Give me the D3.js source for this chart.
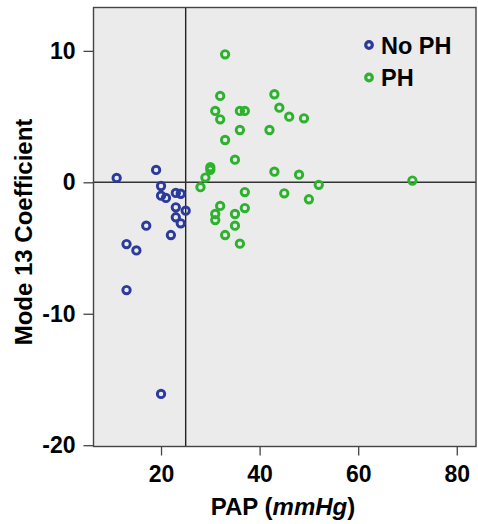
<!DOCTYPE html>
<html>
<head>
<meta charset="utf-8">
<script src="https://cdn.jsdelivr.net/npm/d3@7/dist/d3.min.js"></script>
<style>
  html, body { margin: 0; padding: 0; background: #fff; }
  svg text { font-family: "Liberation Sans", Arial, sans-serif; font-weight: bold; fill: #000; }
</style>
</head>
<body>
<svg id="chart" width="478" height="524"></svg>
<script>
// PAP (mmHg) vs Mode 13 coefficient, split by PH status
const noPhPap  = [11, 19, 20, 20, 21, 23, 24, 23, 25, 23, 24, 17, 22, 13, 15, 13, 20];
const noPhCoef = [0.33, 0.94, -0.28, -1.02, -1.19, -0.81, -0.87, -1.9, -2.16, -2.66, -3.12, -3.3, -4.01, -4.7, -5.18, -8.2, -16.1];

const phPap  = [33, 32, 43, 31, 36, 37, 44, 32, 46, 49, 36, 42, 33, 35, 30, 30, 29, 43, 48, 71, 52, 28, 37, 45, 50, 32, 37, 31, 31, 35, 35, 33, 36];
const phCoef = [9.74, 6.57, 6.7, 5.43, 5.43, 5.43, 5.68, 4.79, 4.99, 4.87, 3.98, 3.98, 3.22, 1.72, 1.15, 0.95, 0.36, 0.81, 0.58, 0.13, -0.19, -0.37, -0.74, -0.84, -1.29, -1.8, -1.96, -2.41, -2.87, -2.41, -3.3, -4.01, -4.67];

const xTicks = [20, 40, 60, 80];
const yTicks = [10, 0, -10, -20];
const groups = ["No PH", "PH"];
const colors = ["#2c3a9c", "#2db22d"];
const refX = 25, refY = 0;

const svg = d3.select("#chart");
const plot = { left: 93.5, right: 476, top: 7.5, bottom: 446.5 };

const x = d3.scaleLinear().domain([6.3, 83.9]).range([plot.left, plot.right]);
const y = d3.scaleLinear().domain([-20.1, 13.3]).range([plot.bottom, plot.top]);

// plot background
svg.append("rect")
  .attr("x", plot.left).attr("y", plot.top)
  .attr("width", plot.right - plot.left).attr("height", plot.bottom - plot.top)
  .attr("fill", "#ebebeb");

// reference lines
svg.append("line")
  .attr("x1", x(refX)).attr("x2", x(refX))
  .attr("y1", plot.top).attr("y2", plot.bottom)
  .attr("stroke", "#222").attr("stroke-width", 1.4);
svg.append("line")
  .attr("x1", plot.left).attr("x2", plot.right)
  .attr("y1", y(refY)).attr("y2", y(refY))
  .attr("stroke", "#333").attr("stroke-width", 1.6);

// axes (plain hyphen for negative labels)
const fmt = d => String(d);
const xAxis = svg.append("g")
  .attr("transform", `translate(0,${plot.bottom})`)
  .call(d3.axisBottom(x).tickValues(xTicks).tickFormat(fmt).tickSize(9).tickPadding(10));
const yAxis = svg.append("g")
  .attr("transform", `translate(${plot.left},0)`)
  .call(d3.axisLeft(y).tickValues(yTicks).tickFormat(fmt).tickSize(10).tickPadding(8));

[xAxis, yAxis].forEach(g => {
  g.select(".domain").remove();
  g.selectAll(".tick line").attr("stroke", "#444").attr("stroke-width", 1.3);
  g.selectAll(".tick text").style("font-size", "23px").attr("fill", "#000");
});

// frame
svg.append("rect")
  .attr("x", plot.left).attr("y", plot.top)
  .attr("width", plot.right - plot.left).attr("height", plot.bottom - plot.top)
  .attr("fill", "none").attr("stroke", "#444").attr("stroke-width", 1.4);

// points
const series = [
  { name: groups[0], xs: noPhPap, ys: noPhCoef, color: colors[0] },
  { name: groups[1], xs: phPap, ys: phCoef, color: colors[1] }
];
series.forEach(s => {
  svg.append("g").selectAll("circle")
    .data(s.xs.map((v, i) => [v, s.ys[i]]))
    .join("circle")
    .attr("cx", d => x(d[0]))
    .attr("cy", d => y(d[1]))
    .attr("r", 3.7)
    .attr("fill", "none")
    .attr("stroke", s.color)
    .attr("stroke-width", 2.9);
});

// legend
const legend = svg.append("g").attr("transform", "translate(369,45)");
series.forEach((s, i) => {
  const row = legend.append("g").attr("transform", `translate(0,${i * 32.5})`);
  row.append("circle").attr("r", 3.3).attr("fill", "none")
    .attr("stroke", s.color).attr("stroke-width", 3.2);
  row.append("text").attr("x", 12).attr("y", 8.5)
    .style("font-size", "23.5px").text(s.name);
});

// axis titles
const xt = svg.append("text")
  .attr("x", 283).attr("y", 515)
  .attr("text-anchor", "middle")
  .style("font-size", "24px");
xt.append("tspan").text("PAP (");
xt.append("tspan").style("font-style", "italic").text("mmHg");
xt.append("tspan").text(")");

svg.append("text")
  .attr("transform", "translate(32,232) rotate(-90)")
  .attr("text-anchor", "middle")
  .style("font-size", "24px")
  .text("Mode 13 Coefficient");
</script>
</body>
</html>
